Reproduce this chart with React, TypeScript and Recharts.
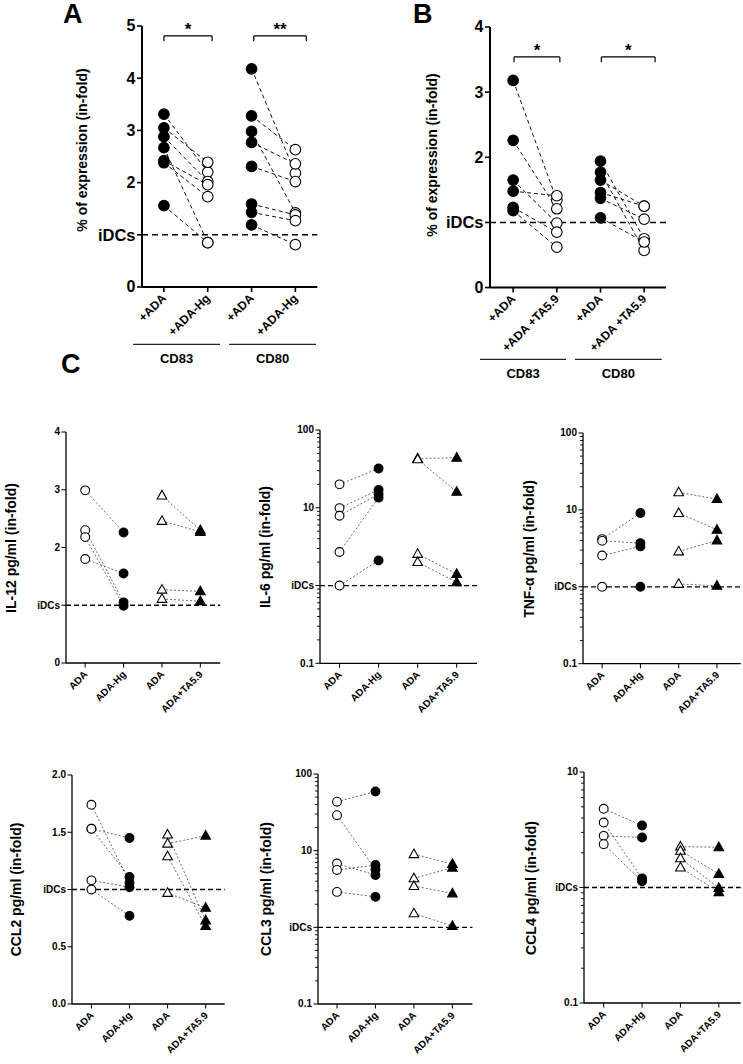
import React from 'react';
import { ScatterChart, Scatter, XAxis, YAxis, ReferenceLine } from 'recharts';

const FONT = '"Liberation Sans", Arial, Helvetica, sans-serif';

// ---------- Panel A ----------
const aCategories = ['+ADA', '+ADA-Hg', '+ADA', '+ADA-Hg'];
const aCD83Ada = [3.31, 3.05, 2.88, 2.67, 2.42, 2.38, 1.56];
const aCD83Hg = [2.2, 2.39, 2.02, 0.85, 1.96, 1.73, 0.85];
const aCD80Ada = [4.18, 3.28, 2.98, 2.77, 2.31, 1.59, 1.43, 1.19];
const aCD80Hg = [2.18, 2.63, 1.42, 2.36, 2.02, 1.38, 1.27, 0.81];
const aTicks = [0, 1, 2, 3, 4, 5];
const aTickLabels = ['0', 'iDCs', '2', '3', '4', '5'];

// ---------- Panel B ----------
const bCategories = ['+ADA', '+ADA +TA5.9', '+ADA', '+ADA +TA5.9'];
const bCD83Ada = [3.18, 2.26, 1.65, 1.48, 1.23, 1.18];
const bCD83Ta = [1.34, 1.21, 0.99, 1.41, 0.85, 0.62];
const bCD80Ada = [1.94, 1.77, 1.65, 1.46, 1.37, 1.07];
const bCD80Ta = [0.75, 0.57, 1.25, 1.25, 1.05, 0.7];
const bTicks = [0, 1, 2, 3, 4];
const bTickLabels = ['0', 'iDCs', '2', '3', '4'];

// ---------- Panel C ----------
const cCategories = ['ADA', 'ADA-Hg', 'ADA', 'ADA+TA5.9'];

const il12AdaA = [2.99, 2.3, 2.18, 1.8];
const il12Hg = [2.26, 1.05, 0.99, 1.55];
const il12AdaB = [2.9, 2.46, 1.27, 1.11];
const il12Ta = [2.3, 2.27, 1.24, 1.07];
const il12Ticks = [0, 1, 2, 3, 4];
const il12TickLabels = ['0', 'iDCs', '2', '3', '4'];

const il6AdaA = [20, 9.9, 7.9, 2.7, 1.0];
const il6Hg = [32, 17, 15, 13.5, 2.1];
const il6AdaB = [43, 42, 2.55, 2.0];
const il6Ta = [44, 16, 1.41, 1.1];

const tnfAdaA = [4.17, 3.96, 2.55, 1.0];
const tnfHg = [9.1, 3.7, 3.35, 1.0];
const tnfAdaB = [16.9, 9.1, 2.88, 1.09];
const tnfTa = [13.8, 5.5, 4.0, 1.03];

const ccl2AdaA = [1.74, 1.53, 1.53, 1.08, 1.0];
const ccl2Hg = [1.06, 1.45, 1.11, 1.02, 0.77];
const ccl2AdaB = [1.48, 1.4, 1.29, 0.97];
const ccl2Ta = [0.73, 1.47, 0.68, 0.84];
const ccl2Ticks = [0, 0.5, 1, 1.5, 2];
const ccl2TickLabels = ['0.0', '0.5', 'iDCs', '1.5', '2.0'];

const ccl3AdaA = [43.5, 29, 6.8, 5.6, 2.9];
const ccl3Hg = [59, 5.7, 4.8, 6.5, 2.5];
const ccl3AdaB = [9.0, 4.35, 3.46, 1.52];
const ccl3Ta = [6.7, 6.0, 2.77, 1.04];

const ccl4AdaA = [4.8, 3.65, 2.8, 2.37];
const ccl4Hg = [3.44, 1.2, 2.71, 1.13];
const ccl4AdaB = [2.26, 2.08, 1.79, 1.49];
const ccl4Ta = [2.23, 1.31, 0.99, 0.91];

const log3Majors = [0.1, 1, 10, 100];
const log3Labels = ['0.1', 'iDCs', '10', '100'];
const log2Majors = [0.1, 1, 10];
const log2Labels = ['0.1', 'iDCs', '10'];

function withMinorTicks(majors: number[]): number[] {
  const out: number[] = [];
  for (let i = 0; i < majors.length - 1; i++) {
    for (let k = 1; k < 10; k++) out.push(Number((majors[i] * k).toPrecision(6)));
  }
  out.push(majors[majors.length - 1]);
  return out;
}

type Kind = 'openCircle' | 'filledCircle' | 'openTriangle' | 'filledTriangle';

interface Group {
  base: number[];
  treat: number[];
  xBase: number;
  baseKind: Kind;
  treatKind: Kind;
}

interface Bracket {
  x1: number;
  x2: number;
  y: number;
  yLeg: number;
  label: string;
}

interface StyleCfg {
  axisW: number;
  tickFont: number;
  iDCsFont: number;
  majorLen: number;
  minorLen: number;
  xFont: number;
  markerR: number;
  pairStroke: string;
  pairDash: string;
  pairW: number;
  refDash: string;
  refW: number;
  yw: number;
  xh: number;
}

const BIG: StyleCfg = {
  axisW: 2,
  tickFont: 16,
  iDCsFont: 16.5,
  majorLen: 5,
  minorLen: 3,
  xFont: 12,
  markerR: 5.3,
  pairStroke: '#111',
  pairDash: '4 3',
  pairW: 1,
  refDash: '6 4',
  refW: 1.5,
  yw: 60,
  xh: 80,
};

const SMALL: StyleCfg = {
  axisW: 1.3,
  tickFont: 10,
  iDCsFont: 10,
  majorLen: 4.5,
  minorLen: 3,
  xFont: 10,
  markerR: 4.4,
  pairStroke: '#444',
  pairDash: '2 2',
  pairW: 0.8,
  refDash: '5 3',
  refW: 1.3,
  yw: 42,
  xh: 70,
};

interface PanelCfg {
  box: [number, number, number, number];
  xDomain: [number, number];
  yDomain: [number, number];
  log: boolean;
  ticks: number[];
  majors: number[];
  majorLabels: string[];
  categories: string[];
  groups: Group[];
  st: StyleCfg;
  brackets?: Bracket[];
}

function Marker({ cx, cy, kind, r }: { cx: number; cy: number; kind: Kind; r: number }) {
  if (cx == null || cy == null || isNaN(cx) || isNaN(cy)) return <g />;
  if (kind === 'openCircle' || kind === 'filledCircle') {
    return (
      <circle
        cx={cx}
        cy={cy}
        r={r}
        fill={kind === 'openCircle' ? '#fff' : '#000'}
        stroke="#000"
        strokeWidth={1.1}
      />
    );
  }
  const w = r * 2.2;
  const h = r * 1.95;
  const pts = `${cx},${cy - h * 0.6} ${cx + w / 2},${cy + h * 0.4} ${cx - w / 2},${cy + h * 0.4}`;
  return (
    <polygon
      points={pts}
      fill={kind === 'openTriangle' ? '#fff' : '#000'}
      stroke="#000"
      strokeWidth={1.1}
      strokeLinejoin="miter"
    />
  );
}

const MT = 14;
const MR = 4;

function Panel({ cfg }: { cfg: PanelCfg }) {
  const { box, st } = cfg;
  const [l, t, r, b] = box;
  const width = st.yw + (r - l) + MR;
  const height = (b - t) + MT + st.xh;

  const findMajor = (v: number) =>
    cfg.majors.findIndex((m) => Math.abs(m - v) < 1e-6 * Math.max(1, Math.abs(m)));

  const yTick = (p: any) => {
    const { x, y, payload } = p;
    const v = Number(payload.value);
    const idx = findMajor(v);
    const isMajor = idx >= 0;
    const len = isMajor ? st.majorLen : st.minorLen;
    const label = isMajor ? cfg.majorLabels[idx] : '';
    return (
      <g>
        <line x1={x - len} x2={x} y1={y} y2={y} stroke="#000" strokeWidth={isMajor ? st.axisW * 0.8 : 0.9} />
        {isMajor && (
          <text
            x={x - len - 1.5}
            y={y}
            textAnchor="end"
            dominantBaseline="central"
            fontFamily={FONT}
            fontWeight="bold"
            fontSize={label === 'iDCs' ? st.iDCsFont : st.tickFont}
            fill="#000"
          >
            {label}
          </text>
        )}
      </g>
    );
  };

  const xTick = (p: any) => {
    const { x, y, payload } = p;
    const v = Number(payload.value);
    const label = cfg.categories[Math.round(v) - 1] ?? '';
    const tx = x + 3;
    const ty = y + 12;
    return (
      <g>
        <line x1={x} x2={x} y1={y} y2={y + st.majorLen} stroke="#000" strokeWidth={st.axisW * 0.8} />
        <text
          x={tx}
          y={ty}
          transform={`rotate(-45 ${tx} ${ty})`}
          textAnchor="end"
          fontFamily={FONT}
          fontWeight="bold"
          fontSize={st.xFont}
          fill="#000"
        >
          {label}
        </text>
      </g>
    );
  };

  const pairs: { key: string; pts: { x: number; y: number }[] }[] = [];
  cfg.groups.forEach((g, gi) => {
    g.base.forEach((v, i) => {
      pairs.push({
        key: `p${gi}-${i}`,
        pts: [
          { x: g.xBase, y: v },
          { x: g.xBase + 1, y: g.treat[i] },
        ],
      });
    });
  });

  const empty = () => <g />;

  return (
    <div style={{ position: 'absolute', left: l - st.yw, top: t - MT }}>
      <ScatterChart
        width={width}
        height={height}
        margin={{ top: MT, right: MR, bottom: 0, left: 0 }}
      >
        <XAxis
          type="number"
          dataKey="x"
          domain={cfg.xDomain}
          allowDataOverflow
          ticks={[1, 2, 3, 4]}
          interval={0}
          tickSize={0}
          tickMargin={0}
          tickLine={false}
          height={st.xh}
          axisLine={{ stroke: '#000', strokeWidth: st.axisW }}
          tick={xTick}
        />
        <YAxis
          type="number"
          dataKey="y"
          scale={cfg.log ? 'log' : 'linear'}
          domain={cfg.yDomain}
          allowDataOverflow
          ticks={cfg.ticks}
          interval={0}
          tickSize={0}
          tickMargin={0}
          tickLine={false}
          width={st.yw}
          axisLine={{ stroke: '#000', strokeWidth: st.axisW }}
          tick={yTick}
        />
        <ReferenceLine
          y={1}
          stroke="#000"
          strokeWidth={st.refW}
          strokeDasharray={st.refDash}
        />
        {(cfg.brackets ?? []).map((br, i) => (
          <ReferenceLine
            key={`bt${i}`}
            segment={[
              { x: br.x1, y: br.y },
              { x: br.x2, y: br.y },
            ]}
            stroke="#000"
            strokeWidth={1.2}
            label={{
              value: br.label,
              position: 'top',
              offset: 1,
              fontSize: 17,
              fontWeight: 'bold',
              fill: '#000',
              fontFamily: FONT,
            }}
          />
        ))}
        {(cfg.brackets ?? []).map((br, i) => (
          <ReferenceLine
            key={`bl${i}`}
            segment={[
              { x: br.x1, y: br.y },
              { x: br.x1, y: br.yLeg },
            ]}
            stroke="#000"
            strokeWidth={1.2}
          />
        ))}
        {(cfg.brackets ?? []).map((br, i) => (
          <ReferenceLine
            key={`br${i}`}
            segment={[
              { x: br.x2, y: br.y },
              { x: br.x2, y: br.yLeg },
            ]}
            stroke="#000"
            strokeWidth={1.2}
          />
        ))}
        {pairs.map((p) => (
          <Scatter
            key={p.key}
            data={p.pts}
            isAnimationActive={false}
            line={{ stroke: cfg.st.pairStroke, strokeWidth: st.pairW, strokeDasharray: st.pairDash }}
            shape={empty}
          />
        ))}
        {cfg.groups.map((g, gi) => (
          <Scatter
            key={`b${gi}`}
            data={g.base.map((v) => ({ x: g.xBase, y: v }))}
            isAnimationActive={false}
            shape={(sp: any) => <Marker cx={sp.cx} cy={sp.cy} kind={g.baseKind} r={st.markerR} />}
          />
        ))}
        {cfg.groups.map((g, gi) => (
          <Scatter
            key={`t${gi}`}
            data={g.treat.map((v) => ({ x: g.xBase + 1, y: v }))}
            isAnimationActive={false}
            shape={(sp: any) => <Marker cx={sp.cx} cy={sp.cy} kind={g.treatKind} r={st.markerR} />}
          />
        ))}
      </ScatterChart>
    </div>
  );
}

function cGroups(a: number[], hg: number[], b: number[], ta: number[]): Group[] {
  return [
    { base: a, treat: hg, xBase: 1, baseKind: 'openCircle', treatKind: 'filledCircle' },
    { base: b, treat: ta, xBase: 3, baseKind: 'openTriangle', treatKind: 'filledTriangle' },
  ];
}

const panels: PanelCfg[] = [
  {
    box: [141.7, 26, 317, 287],
    xDomain: [0.5, 4.5],
    yDomain: [0, 5],
    log: false,
    ticks: aTicks,
    majors: aTicks,
    majorLabels: aTickLabels,
    categories: aCategories,
    groups: [
      { base: aCD83Ada, treat: aCD83Hg, xBase: 1, baseKind: 'filledCircle', treatKind: 'openCircle' },
      { base: aCD80Ada, treat: aCD80Hg, xBase: 3, baseKind: 'filledCircle', treatKind: 'openCircle' },
    ],
    st: BIG,
    brackets: [
      { x1: 1, x2: 2.1, y: 4.81, yLeg: 4.71, label: '*' },
      { x1: 3.05, x2: 4.25, y: 4.81, yLeg: 4.71, label: '**' },
    ],
  },
  {
    box: [490, 26.7, 666, 287.3],
    xDomain: [0.47, 4.5],
    yDomain: [0, 4],
    log: false,
    ticks: bTicks,
    majors: bTicks,
    majorLabels: bTickLabels,
    categories: bCategories,
    groups: [
      { base: bCD83Ada, treat: bCD83Ta, xBase: 1, baseKind: 'filledCircle', treatKind: 'openCircle' },
      { base: bCD80Ada, treat: bCD80Ta, xBase: 3, baseKind: 'filledCircle', treatKind: 'openCircle' },
    ],
    st: BIG,
    brackets: [
      { x1: 1.02, x2: 2.07, y: 3.54, yLeg: 3.46, label: '*' },
      { x1: 3.02, x2: 4.25, y: 3.54, yLeg: 3.46, label: '*' },
    ],
  },
  {
    box: [65.7, 432.3, 220, 663.3],
    xDomain: [0.5, 4.52],
    yDomain: [0, 4],
    log: false,
    ticks: il12Ticks,
    majors: il12Ticks,
    majorLabels: il12TickLabels,
    categories: cCategories,
    groups: cGroups(il12AdaA, il12Hg, il12AdaB, il12Ta),
    st: SMALL,
  },
  {
    box: [320, 430, 477, 663.3],
    xDomain: [0.5, 4.52],
    yDomain: [0.1, 100],
    log: true,
    ticks: withMinorTicks(log3Majors),
    majors: log3Majors,
    majorLabels: log3Labels,
    categories: cCategories,
    groups: cGroups(il6AdaA, il6Hg, il6AdaB, il6Ta),
    st: SMALL,
  },
  {
    box: [583.3, 433.3, 741, 664],
    xDomain: [0.5, 4.62],
    yDomain: [0.1, 100],
    log: true,
    ticks: withMinorTicks(log3Majors),
    majors: log3Majors,
    majorLabels: log3Labels,
    categories: cCategories,
    groups: cGroups(tnfAdaA, tnfHg, tnfAdaB, tnfTa),
    st: SMALL,
  },
  {
    box: [72.3, 775, 225, 1004],
    xDomain: [0.49, 4.5],
    yDomain: [0, 2],
    log: false,
    ticks: ccl2Ticks,
    majors: ccl2Ticks,
    majorLabels: ccl2TickLabels,
    categories: cCategories,
    groups: cGroups(ccl2AdaA, ccl2Hg, ccl2AdaB, ccl2Ta),
    st: SMALL,
  },
  {
    box: [318.3, 774, 472.7, 1004],
    xDomain: [0.506, 4.52],
    yDomain: [0.1, 100],
    log: true,
    ticks: withMinorTicks(log3Majors),
    majors: log3Majors,
    majorLabels: log3Labels,
    categories: cCategories,
    groups: cGroups(ccl3AdaA, ccl3Hg, ccl3AdaB, ccl3Ta),
    st: SMALL,
  },
  {
    box: [584.3, 772.3, 741, 1003.3],
    xDomain: [0.487, 4.57],
    yDomain: [0.1, 10],
    log: true,
    ticks: withMinorTicks(log2Majors),
    majors: log2Majors,
    majorLabels: log2Labels,
    categories: cCategories,
    groups: cGroups(ccl4AdaA, ccl4Hg, ccl4AdaB, ccl4Ta),
    st: SMALL,
  },
];

const yLabels: { text: string; x: number; y: number }[] = [
  { text: '% of expression (in-fold)', x: 81.7, y: 150 },
  { text: '% of expression (in-fold)', x: 431.7, y: 155 },
  { text: 'IL-12 pg/ml (in-fold)', x: 10.5, y: 548 },
  { text: 'IL-6 pg/ml (in-fold)', x: 265.3, y: 547 },
  { text: 'TNF-\u03b1 pg/ml (in-fold)', x: 529, y: 549 },
  { text: 'CCL2 pg/ml (in-fold)', x: 15.7, y: 889.5 },
  { text: 'CCL3 pg/ml (in-fold)', x: 265.7, y: 889 },
  { text: 'CCL4 pg/ml (in-fold)', x: 531, y: 888 },
];

const groupLabels: { text: string; x1: number; x2: number; ly: number; ty: number }[] = [
  { text: 'CD83', x1: 133, x2: 220, ly: 344.3, ty: 363.3 },
  { text: 'CD80', x1: 229, x2: 316, ly: 344.3, ty: 363.3 },
  { text: 'CD83', x1: 480, x2: 566, ly: 359.3, ty: 378.3 },
  { text: 'CD80', x1: 575, x2: 661.7, ly: 359.3, ty: 378.3 },
];

const panelLetters: { text: string; x: number; y: number }[] = [
  { text: 'A', x: 63, y: 22.5 },
  { text: 'B', x: 413, y: 23 },
  { text: 'C', x: 61, y: 373 },
];

export default function App() {
  return (
    <div
      style={{
        position: 'absolute',
        left: 0,
        top: 0,
        width: 743,
        height: 1064,
        overflow: 'hidden',
        background: '#fff',
        fontFamily: FONT,
      }}
    >
      {panels.map((p, i) => (
        <Panel key={i} cfg={p} />
      ))}
      <svg
        width={743}
        height={1064}
        style={{ position: 'absolute', left: 0, top: 0, pointerEvents: 'none' }}
      >
        {panelLetters.map((p) => (
          <text key={p.text} x={p.x} y={p.y} fontFamily={FONT} fontWeight="bold" fontSize={27} fill="#000">
            {p.text}
          </text>
        ))}
        {yLabels.map((yl, i) => (
          <text
            key={i}
            x={yl.x}
            y={yl.y}
            transform={`rotate(-90 ${yl.x} ${yl.y})`}
            textAnchor="middle"
            dominantBaseline="central"
            fontFamily={FONT}
            fontWeight="bold"
            fontSize={14}
            fill="#000"
          >
            {yl.text}
          </text>
        ))}
        {groupLabels.map((g, i) => (
          <g key={i}>
            <line x1={g.x1} x2={g.x2} y1={g.ly} y2={g.ly} stroke="#222" strokeWidth={1.2} />
            <text
              x={(g.x1 + g.x2) / 2}
              y={g.ty}
              textAnchor="middle"
              fontFamily={FONT}
              fontWeight="bold"
              fontSize={13}
              fill="#000"
            >
              {g.text}
            </text>
          </g>
        ))}
      </svg>
    </div>
  );
}
